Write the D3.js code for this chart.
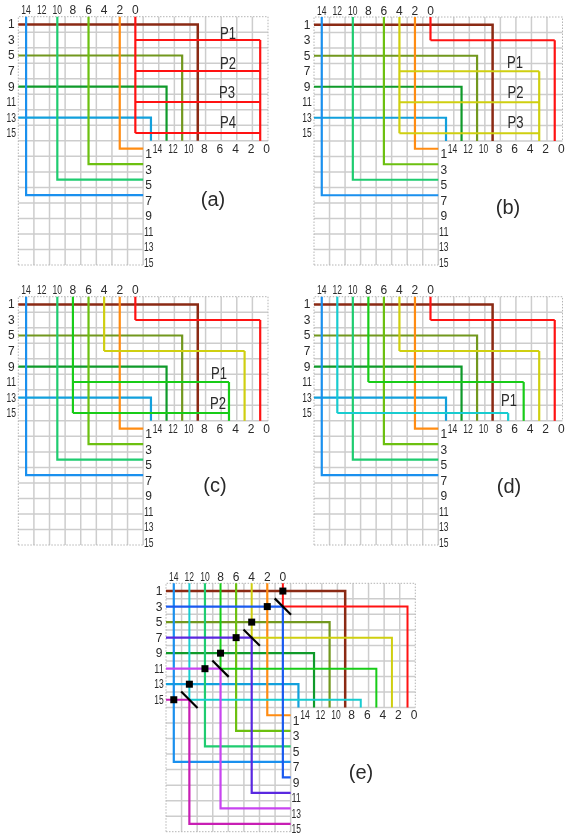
<!DOCTYPE html>
<html>
<head>
<meta charset="utf-8">
<script src="https://cdn.jsdelivr.net/npm/d3@7/dist/d3.min.js"></script>
<style>
html,body{margin:0;padding:0;background:#fff;}
svg{display:block;filter:blur(0.5px);}
text{font-family:"Liberation Sans",Arial,sans-serif;fill:#2a2a2a;}
</style>
</head>
<body>
<svg id="chart" width="567" height="837"></svg>
<script>
// ---- data: labels of the two crossing sides of the folded array ----
const columnLabels = [14,12,10,8,6,4,2,0];
const rowLabels = [1,3,5,7,9,11,13,15];

// row entering at left -> exit column on the right-hand side
const rowIds  = [1,5,9,13];
const rowExit = [8,10,12,14];
// column entering at top -> exit row at the bottom
const colIds  = [2,6,10,14];
const colSink = [1,3,5,7];

// "comb" wires drawn per panel: [panel, column, rows..., exit]
const combPanels = ["a","b","b","c","c","c","d","d","d","d"];
const combCols   = [0,0,4,0,4,8,0,4,8,12];
const combRows   = [[3,7,11,15],[3],[7,11,15],[3],[7],[11,15],[3],[7],[11],[15]];
const combExits  = [0,0,2,0,2,4,0,2,4,6];

// panel (e): switches
const squareCols = [0,2,4,6,8,10,12,14];
const squareRows = [1,3,5,7,9,11,13,15];
const slashCols  = [0,4,8,12];
const slashRows  = [3,7,11,15];
// panel (e): rows turning down a column to a bottom exit
const turnRows  = [3,7,11,15];
const turnCols  = [0,4,8,12];
const turnSinks = [9,11,13,15];
// panel (e): column wires ending at a slash, then leaving on the right
const stubCols  = [0,4,8,12];
const stubRows  = [3,7,11,15];
const stubExits = [0,2,4,6];

const panelNames = ["a","b","c","d","e"];
const panelTags  = ["P1","P2","P3","P4"];

// ---- styling ----
const rowColor = {1:"#8b2a14",5:"#72981e",9:"#0f9a2a",13:"#12a0dc"};
const colColor = {2:"#ff8c12",6:"#6cc010",10:"#1fcc70",14:"#1a90ee"};
const combColor = {0:"#ff1212",4:"#cfcf10",8:"#18cc18",12:"#18ccd0"};
const turnColor = {3:"#1a5af0",7:"#5a28e0",11:"#c844f0",15:"#c81eb4"};

// layout of each panel
const layout = {
  a:{x:[18.3,268],y:[16.7,265],letter:[213,199],tags:[[228,33],[228,63],[227,92],[228,122]]},
  b:{x:[314,562.5],y:[17,265],letter:[508,207],tags:[[515,62],[515.5,92.5],[515.5,122.5]]},
  c:{x:[18.3,268],y:[296.7,545],letter:[215,485],tags:[[219,373],[218,403]]},
  d:{x:[314,562.5],y:[296.7,545],letter:[509,486],tags:[[509,400]]},
  e:{x:[166,415.3],y:[583.3,831.7],letter:[361,772],tags:[]}
};

const svg = d3.select("#chart");
const line = d3.line();

function addText(g,x,y,str,size,len){
  const t = g.append("text").attr("x",x).attr("y",y)
    .attr("text-anchor","middle").attr("dominant-baseline","central")
    .attr("font-size",size).text(str);
  if(len) t.attr("textLength",len).attr("lengthAdjust","spacingAndGlyphs");
  return t;
}
const tick = (g,x,y,v)=>addText(g,x,y,v,12,v>9?9.5:null);

panelNames.forEach(name=>{
  const L = layout[name];
  const g = svg.append("g");
  const gx = d3.scaleLinear([0,32],L.x);
  const gy = d3.scaleLinear([0,32],L.y);
  const colX  = d3.scalePoint(columnLabels,[gx(1),gx(15)]);
  const exitX = d3.scalePoint(columnLabels,[gx(17),gx(31)]);
  const rowY  = d3.scalePoint(rowLabels,[gy(1),gy(15)]);
  const sinkY = d3.scalePoint(rowLabels,[gy(17),gy(31)]);

  // grid
  const gridG = g.append("g").attr("stroke","#cdcdcd").attr("stroke-width",1.5).attr("fill","none");
  d3.range(2,32,2).forEach(i=>{
    gridG.append("path").attr("d",line([[gx(i),gy(0)],[gx(i),gy(i<=16?32:16)]]));
    gridG.append("path").attr("d",line([[gx(0),gy(i)],[gx(i<=16?32:16),gy(i)]]));
  });
  const border = g.append("g").attr("stroke","#b5b5b5").attr("stroke-width",1).attr("stroke-dasharray","1.5 1.5").attr("fill","none");
  border.append("path").attr("d",line([[gx(0),gy(32)],[gx(0),gy(0)],[gx(32),gy(0)],[gx(32),gy(16)]]));
  border.append("path").attr("d",line([[gx(0),gy(32)],[gx(16),gy(32)]]));

  const wires = g.append("g").attr("fill","none").attr("stroke-linejoin","miter");
  const draw = (pts,color,w=2.2)=>wires.append("path").attr("d",line(pts)).attr("stroke",color).attr("stroke-width",w);

  // rows to the right-hand exits
  rowIds.forEach((r,i)=>{
    const e = rowExit[i];
    draw([[gx(0),rowY(r)],[exitX(e),rowY(r)],[exitX(e),gy(16)]],rowColor[r],r===1?2.5:2.2);
  });
  // columns to the bottom exits
  colIds.forEach((c,i)=>{
    const s = colSink[i];
    draw([[colX(c),gy(0)],[colX(c),sinkY(s)],[gx(16),sinkY(s)]],colColor[c],2.2);
  });

  if(name!=="e"){
    combPanels.forEach((p,i)=>{
      if(p!==name) return;
      const c = combCols[i], rows = combRows[i], e = combExits[i];
      const first = rows[0], last = rows[rows.length-1];
      draw([[colX(c),gy(0)],[colX(c),rowY(last)]],combColor[c],2.2);
      draw([[exitX(e),rowY(first)],[exitX(e),gy(16)]],combColor[c],2.2);
      rows.forEach(r=>draw([[colX(c),rowY(r)],[exitX(e),rowY(r)]],combColor[c],2));
    });
  } else {
    // columns ending at a slash, then on to the right-hand exits
    stubCols.forEach((c,i)=>{
      const r = stubRows[i], e = stubExits[i];
      draw([[colX(c),gy(0)],[colX(c),rowY(r)],[exitX(e),rowY(r)],[exitX(e),gy(16)]],combColor[c],2);
    });
    // rows turning down the same column
    turnRows.forEach((r,i)=>{
      const c = turnCols[i], s = turnSinks[i];
      draw([[gx(0),rowY(r)],[colX(c),rowY(r)],[colX(c),sinkY(s)],[gx(16),sinkY(s)]],turnColor[r],2.2);
    });
    const sw = g.append("g");
    slashCols.forEach((c,i)=>{
      const r = slashRows[i], x = colX(c), y = rowY(r), d = gx(1)-gx(0)+0.4;
      sw.append("path").attr("d",line([[x-d,y-d],[x+d,y+d]])).attr("stroke","#000").attr("stroke-width",2.2);
    });
    squareCols.forEach((c,i)=>{
      const x = colX(c), y = rowY(squareRows[i]);
      sw.append("rect").attr("x",x-3.5).attr("y",y-3.5).attr("width",7).attr("height",7).attr("fill","#000");
    });
  }

  // tick labels
  const labels = g.append("g");
  columnLabels.forEach(c=>{
    tick(labels,colX(c),gy(0)-6.5,c);
    tick(labels,exitX(c)+6.5,gy(17),c);
  });
  rowLabels.forEach(r=>{
    tick(labels,gx(0)-7,rowY(r),r);
    tick(labels,gx(16)+5.5,sinkY(r)+5.5,r);
  });

  // annotations
  L.tags.forEach((t,i)=>addText(labels,t[0],t[1],panelTags[i],16,16));
  addText(labels,L.letter[0],L.letter[1],"("+name+")",20);
});
</script>
</body>
</html>
